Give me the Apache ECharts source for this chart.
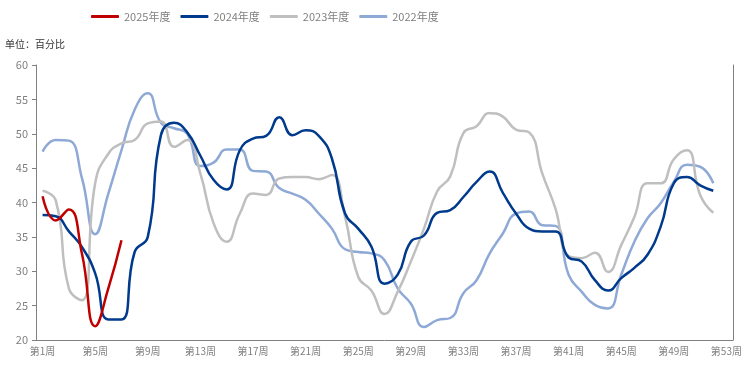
<!DOCTYPE html>
<html>
<head>
<meta charset="utf-8">
<script src="https://cdn.jsdelivr.net/npm/echarts@6/dist/echarts.min.js"></script>
<style>
html,body{margin:0;padding:0;background:#fff;}
#chart{width:751px;height:368px;}
</style>
</head>
<body>
<div id="chart"></div>
<script>
var weeks = ['第1周','第2周','第3周','第4周','第5周','第6周','第7周','第8周','第9周','第10周',
  '第11周','第12周','第13周','第14周','第15周','第16周','第17周','第18周','第19周','第20周',
  '第21周','第22周','第23周','第24周','第25周','第26周','第27周','第28周','第29周','第30周',
  '第31周','第32周','第33周','第34周','第35周','第36周','第37周','第38周','第39周','第40周',
  '第41周','第42周','第43周','第44周','第45周','第46周','第47周','第48周','第49周','第50周',
  '第51周','第52周','第53周'];
var seriesNames = ['2025年度','2024年度','2023年度','2022年度'];
var y2025 = [40.9, 37.4, 39.0, 32.5, 22.0, 27.5, 34.5];
var y2024 = [38.2, 38.0, 35.8, 33.5, 29.7, 23.0, 23.0, 32.8, 35.0, 49.8,
  51.6, 50.2, 46.8, 43.3, 41.9, 47.6, 49.3, 49.7, 52.4, 49.8,
  50.5, 49.7, 46.4, 38.4, 36.2, 33.6, 28.2, 29.5, 34.3, 35.2,
  38.5, 38.9, 40.8, 43.0, 44.5, 41.4, 38.4, 36.2, 35.8, 35.8,
  32.0, 31.4, 28.7, 27.2, 29.0, 30.5, 32.4, 36.5, 42.8, 43.7,
  42.5, 41.7];
var y2023 = [41.7, 40.3, 27.5, 25.8, 42.8, 47.1, 48.6, 49.1, 51.5, 51.8,
  48.1, 49.1, 44.2, 37.0, 34.3, 38.4, 41.3, 41.1, 43.5, 43.7,
  43.7, 43.4, 44.0, 37.9, 29.2, 27.2, 23.8, 27.0, 31.4, 36.2,
  41.6, 43.8, 50.1, 51.1, 53.0, 52.5, 50.6, 50.2, 44.2, 39.1,
  32.2, 31.9, 32.7, 29.9, 33.8, 37.9, 42.8, 42.8, 46.3, 47.6,
  41.1, 38.5];
var y2022 = [47.4, 49.1, 49.0, 43.5, 35.4, 41.3, 47.6, 53.5, 55.9, 51.6,
  50.8, 50.0, 45.3, 45.8, 47.7, 47.7, 44.6, 44.5, 42.1, 41.3,
  40.4, 38.4, 36.2, 33.2, 32.8, 32.6, 31.6, 27.5, 25.3, 21.9,
  22.9, 23.2, 26.8, 28.7, 32.6, 35.5, 38.4, 38.7, 36.7, 36.6,
  29.5, 27.0, 25.1, 24.6, 29.5, 34.3, 37.7, 39.9, 43.0, 45.5,
  45.2, 42.8];
var colors = ['#C00000', '#003A8C', '#BFBFBF', '#8EA9D6'];
var datas = [y2025, y2024, y2023, y2022];
var zs = [5, 4, 3, 2];

var axisGray = '#808080';
var chart = echarts.init(document.getElementById('chart'), null, {renderer: 'canvas'});
var series = seriesNames.map(function (n, i) {
  return {
    name: n, type: 'line', data: datas[i], smooth: true, showSymbol: false, symbol: 'none',
    z: zs[i],
    lineStyle: {color: colors[i], width: 2.5},
    itemStyle: {color: colors[i]}
  };
});
chart.setOption({
  animation: false,
  textStyle: {fontFamily: '"Noto Sans CJK SC", "Liberation Sans", sans-serif'},
  title: {
    text: '单位：百分比', left: 0, top: 34,
    textStyle: {fontSize: 10, fontWeight: 'normal', color: '#333'}
  },
  legend: {
    top: 6, left: 86, itemWidth: 28, itemHeight: 3, itemGap: 10, icon: 'roundRect',
    textStyle: {fontSize: 11, color: '#7f7f7f'},
    data: seriesNames
  },
  grid: {left: 36, right: 18, top: 65, bottom: 28, containLabel: false},
  xAxis: {
    type: 'category', data: weeks, boundaryGap: true,
    axisLine: {lineStyle: {color: axisGray, width: 1}},
    axisTick: {interval: 3, length: 4, lineStyle: {color: axisGray}},
    axisLabel: {interval: 3, fontSize: 10, color: '#7f7f7f', margin: 6},
    splitLine: {show: false}
  },
  yAxis: [{
    type: 'value', min: 20, max: 60, interval: 5,
    axisLine: {show: true, lineStyle: {color: axisGray}},
    axisTick: {show: true, length: 4, lineStyle: {color: axisGray}},
    axisLabel: {fontSize: 11, color: '#7f7f7f', margin: 8},
    splitLine: {show: false}
  }, {
    type: 'value', min: 20, max: 60, interval: 5, position: 'right',
    axisLine: {show: true, lineStyle: {color: axisGray}},
    axisTick: {show: false}, axisLabel: {show: false}, splitLine: {show: false}
  }],
  series: series
});
</script>
</body>
</html>
